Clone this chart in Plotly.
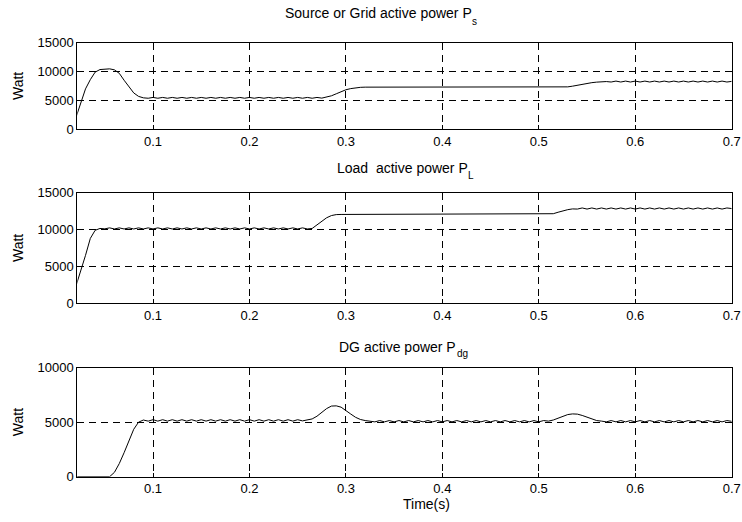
import plotly.graph_objects as go

# ---------------- data ----------------
time_s = [
    0.020, 0.025, 0.030, 0.035, 0.040, 0.045, 0.050, 0.055, 0.060, 0.065,
    0.070, 0.075, 0.080, 0.085, 0.090, 0.095, 0.100, 0.105, 0.110, 0.115,
    0.120, 0.125, 0.130, 0.135, 0.140, 0.145, 0.150, 0.155, 0.160, 0.165,
    0.170, 0.175, 0.180, 0.185, 0.190, 0.195, 0.200, 0.205, 0.210, 0.215,
    0.220, 0.225, 0.230, 0.235, 0.240, 0.245, 0.250, 0.255, 0.260, 0.265,
    0.270, 0.275, 0.280, 0.285, 0.290, 0.295, 0.300, 0.305, 0.310, 0.315,
    0.320, 0.325, 0.330, 0.335, 0.340, 0.345, 0.350, 0.355, 0.360, 0.365,
    0.370, 0.375, 0.380, 0.385, 0.390, 0.395, 0.400, 0.405, 0.410, 0.415,
    0.420, 0.425, 0.430, 0.435, 0.440, 0.445, 0.450, 0.455, 0.460, 0.465,
    0.470, 0.475, 0.480, 0.485, 0.490, 0.495, 0.500, 0.505, 0.510, 0.515,
    0.520, 0.525, 0.530, 0.535, 0.540, 0.545, 0.550, 0.555, 0.560, 0.565,
    0.570, 0.575, 0.580, 0.585, 0.590, 0.595, 0.600, 0.605, 0.610, 0.615,
    0.620, 0.625, 0.630, 0.635, 0.640, 0.645, 0.650, 0.655, 0.660, 0.665,
    0.670, 0.675, 0.680, 0.685, 0.690, 0.695, 0.700,
]

source_power = [
    2000, 4600, 7000, 8600, 9900, 10350, 10470, 10470, 10300, 9700,
    8500, 7300, 6300, 5700, 5450, 5380, 5520, 5380, 5520, 5380,
    5520, 5380, 5520, 5380, 5520, 5380, 5520, 5380, 5520, 5380,
    5520, 5380, 5520, 5380, 5520, 5380, 5520, 5380, 5520, 5380,
    5520, 5380, 5520, 5380, 5520, 5380, 5520, 5380, 5520, 5380,
    5520, 5400, 5550, 5800, 6150, 6550, 6850, 7050, 7200, 7270,
    7300, 7300, 7300, 7300, 7300, 7300, 7300, 7300, 7300, 7300,
    7300, 7300, 7300, 7300, 7300, 7300, 7300, 7300, 7300, 7300,
    7300, 7300, 7300, 7300, 7300, 7300, 7300, 7300, 7300, 7300,
    7300, 7300, 7300, 7300, 7300, 7300, 7300, 7300, 7300, 7300,
    7300, 7310, 7350, 7470, 7640, 7800, 7950, 8080, 8170, 8230,
    8270, 8190, 8350, 8190, 8350, 8190, 8350, 8190, 8350, 8190,
    8350, 8190, 8350, 8190, 8350, 8190, 8350, 8190, 8350, 8190,
    8350, 8190, 8350, 8190, 8350, 8190, 8300,
]

load_power = [
    2300, 4300, 6500, 8800, 9900, 10150, 10100, 10230, 10080, 10230,
    10080, 10230, 10080, 10230, 10080, 10230, 10080, 10230, 10080, 10230,
    10080, 10230, 10080, 10230, 10080, 10230, 10080, 10230, 10080, 10230,
    10080, 10230, 10080, 10230, 10080, 10230, 10080, 10230, 10080, 10230,
    10080, 10230, 10080, 10230, 10080, 10230, 10080, 10230, 10080, 10150,
    10600, 11150, 11600, 11900, 12030, 12050, 12050, 12050, 12050, 12050,
    12050, 12050, 12050, 12050, 12050, 12050, 12050, 12050, 12050, 12050,
    12050, 12050, 12050, 12050, 12050, 12050, 12050, 12050, 12050, 12050,
    12050, 12050, 12050, 12050, 12050, 12050, 12050, 12050, 12050, 12050,
    12050, 12050, 12050, 12050, 12050, 12050, 12050, 12050, 12050, 12150,
    12350, 12550, 12700, 12800, 12780, 12930, 12780, 12930, 12780, 12930,
    12780, 12930, 12780, 12930, 12780, 12930, 12780, 12930, 12780, 12930,
    12780, 12930, 12780, 12930, 12780, 12930, 12780, 12930, 12780, 12930,
    12780, 12930, 12780, 12930, 12780, 12930, 12850,
]

dg_power = [
    0, 0, 0, 0, 0, 0, 0, 0, 400, 1200,
    2200, 3250, 4350, 5000, 5200, 5100, 5230, 5100, 5230, 5100,
    5230, 5100, 5230, 5100, 5230, 5100, 5230, 5100, 5230, 5100,
    5230, 5100, 5230, 5100, 5230, 5100, 5230, 5100, 5230, 5100,
    5230, 5100, 5230, 5100, 5230, 5100, 5230, 5120, 5200, 5300,
    5550, 5900, 6250, 6480, 6500, 6380, 6100, 5750, 5450, 5250,
    5150, 5120, 5030, 5150, 5030, 5150, 5030, 5150, 5030, 5150,
    5030, 5150, 5030, 5150, 5030, 5150, 5030, 5150, 5030, 5150,
    5030, 5150, 5030, 5150, 5030, 5150, 5030, 5150, 5030, 5150,
    5030, 5150, 5030, 5150, 5030, 5150, 5030, 5150, 5100, 5200,
    5380, 5550, 5700, 5760, 5740, 5620, 5450, 5280, 5150, 5100,
    5030, 5150, 5030, 5150, 5030, 5150, 5030, 5150, 5030, 5150,
    5030, 5150, 5030, 5150, 5030, 5150, 5030, 5150, 5030, 5150,
    5030, 5150, 5030, 5150, 5030, 5150, 5080,
]

x_ticks = [0.1, 0.2, 0.3, 0.4, 0.5, 0.6, 0.7]
y_ticks_15k = [0, 5000, 10000, 15000]
y_ticks_10k = [0, 5000, 10000]

title_main = ["Source or Grid active power P",
              "Load\u00a0 active power P",
              "DG active power P"]
title_sub = ["s", "L", "dg"]
y_label = "Watt"
x_label = "Time(s)"

# ---------------- layout ----------------
W, H = 742, 522
FONT = "Liberation Sans, Arial, Helvetica, sans-serif"
TICK_FS = 13
TEXT_FS = 14
SUB_FS = 10

def px_x(p):
    return p / W

def px_y(p):
    return 1 - p / H

panels = [  # (top px, bottom px, y range, y ticks, series)
    (42.7, 129.3, [0, 15000], y_ticks_15k, source_power),
    (192.7, 303.3, [0, 15000], y_ticks_15k, load_power),
    (367.7, 476.7, [0, 10000], y_ticks_10k, dg_power),
]

fig = go.Figure()
layout = dict(
    width=W, height=H,
    margin=dict(l=0, r=0, t=0, b=0, autoexpand=False),
    paper_bgcolor="white", plot_bgcolor="white",
    showlegend=False,
    font=dict(family=FONT, size=TICK_FS, color="black"),
)

for i, (top, bot, yr, yt, series) in enumerate(panels):
    n = i + 1
    xa = "xaxis" if n == 1 else f"xaxis{n}"
    ya = "yaxis" if n == 1 else f"yaxis{n}"
    fig.add_trace(go.Scatter(
        x=time_s, y=series, mode="lines",
        line=dict(color="black", width=1),
        xaxis="x" if n == 1 else f"x{n}",
        yaxis="y" if n == 1 else f"y{n}",
        hoverinfo="skip",
    ))
    common = dict(
        ticks="inside", ticklen=4, tickcolor="black", tickwidth=1,
        showline=True, linecolor="black", linewidth=1, mirror="ticks",
        showgrid=True, gridcolor="black", gridwidth=1, griddash="7px,5px",
        zeroline=False, tickfont=dict(family=FONT, size=TICK_FS, color="black"),
    )
    layout[xa] = dict(
        domain=[px_x(77.3), px_x(731.7)],
        anchor="y" if n == 1 else f"y{n}",
        range=[0.0215, 0.7],
        tickvals=x_ticks, ticktext=[str(v) for v in x_ticks],
        **common,
    )
    layout[ya] = dict(
        domain=[px_y(bot), px_y(top)],
        anchor="x" if n == 1 else f"x{n}",
        range=yr,
        tickvals=yt, ticktext=[str(v) for v in yt],
        **common,
    )

# title positions: (right end of "P", centre y of main text, centre y of subscript)
title_pos = [(472.7, 13.5, 21.0), (468.5, 168.0, 176.0), (457.0, 347.0, 353.5)]

annotations = []
for txt, sub, (xr, ym, ys) in zip(title_main, title_sub, title_pos):
    annotations.append(dict(text=txt, x=px_x(xr), y=px_y(ym), xanchor="right",
                            yanchor="middle", font=dict(size=TEXT_FS)))
    annotations.append(dict(text=sub, x=px_x(xr - 1.5), y=px_y(ys), xanchor="left",
                            yanchor="middle", font=dict(size=SUB_FS)))
annotations.append(dict(text=x_label, x=px_x(426), y=px_y(504), xanchor="center",
                        yanchor="middle", font=dict(size=TEXT_FS)))
for top, bot, *_ in panels:
    annotations.append(dict(text=y_label, x=px_x(18), y=px_y((top + bot) / 2),
                            xanchor="center", yanchor="middle", textangle=-90,
                            font=dict(size=TEXT_FS)))
for a in annotations:
    a.update(xref="paper", yref="paper", showarrow=False, borderpad=0)
    a["font"].update(family=FONT, color="black")
layout["annotations"] = annotations

fig.update_layout(**layout)
fig.write_html(
    "out.html",
    config={"displayModeBar": False, "staticPlot": True},
    post_script="document.body.style.margin='0';document.body.style.padding='0';"
                "document.body.style.overflow='hidden';"
                "document.documentElement.style.overflow='hidden';",
)
